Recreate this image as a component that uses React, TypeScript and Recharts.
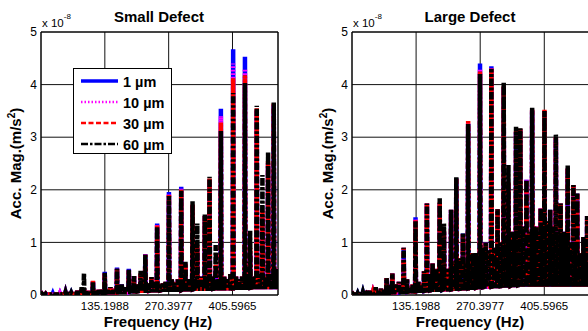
import React from 'react';
import { LineChart, Line, XAxis, YAxis, CartesianGrid, ReferenceArea } from 'recharts';

const FREQ_TICKS = [135.1988, 270.3977, 405.5965];
const FREQ_TICK_LABELS = ['135.1988', '270.3977', '405.5965'];
const MAG_TICKS = [0, 1, 2, 3, 4, 5];
const SERIES_NAMES = ['1 \u00b5m', '10 \u00b5m', '30 \u00b5m', '60 \u00b5m'];
const PANEL_TITLES = ['Small Defect', 'Large Defect'];

// ---- Small defect spectrum (Hz, x 1e-8 m/s^2) ----
const smallFreq = [
  2, 10, 25, 40, 52, 64, 77, 86, 91, 100,
  110, 117, 122, 129, 135, 141, 147, 154, 161, 166,
  171, 178, 186, 191, 197, 204, 211, 216, 221, 228,
  234, 240, 246, 252, 258, 264, 271, 277, 283, 290,
  297, 301, 306, 313, 321, 326, 331, 339, 347, 352,
  357, 364, 370, 376, 381, 388, 395, 401, 407, 413,
  420, 426, 432, 438, 443, 450, 457, 463, 469, 475,
  481, 487, 493, 498, 501,
];
const small1um = [
  0.02, 0.02, 0.03, 0.03, 0.05, 0.04, 0.08, 0.1, 0.12, 0.08,
  0.26, 0.08, 0.1, 0.1, 0.44, 0.1, 0.15, 0.12, 0.52, 0.15,
  0.2, 0.15, 0.5, 0.2, 0.36, 0.2, 0.4, 0.2, 0.78, 0.22,
  0.34, 0.25, 1.36, 0.2, 0.22, 0.25, 1.96, 0.3, 0.25, 0.3,
  2.06, 0.3, 0.6, 0.3, 1.7, 0.3, 0.9, 0.35, 1.5, 0.3,
  2.2, 0.35, 0.5, 0.3, 3.54, 0.35, 0.3, 0.4, 4.67, 0.35,
  0.3, 0.35, 4.53, 0.4, 0.8, 0.35, 3.5, 0.4, 1.5, 0.35,
  2.5, 0.4, 3.6, 0.5, 0.3,
];
const small10um = [
  0.02, 0.02, 0.03, 0.03, 0.05, 0.04, 0.08, 0.1, 0.12, 0.08,
  0.26, 0.08, 0.1, 0.1, 0.43, 0.1, 0.15, 0.12, 0.5, 0.15,
  0.2, 0.15, 0.49, 0.2, 0.36, 0.2, 0.4, 0.2, 0.77, 0.22,
  0.34, 0.25, 1.34, 0.2, 0.22, 0.25, 1.92, 0.3, 0.25, 0.3,
  2.02, 0.3, 0.6, 0.3, 1.7, 0.3, 0.9, 0.35, 1.5, 0.3,
  2.2, 0.35, 0.5, 0.3, 3.4, 0.35, 0.3, 0.4, 4.4, 0.35,
  0.3, 0.35, 4.3, 0.4, 0.8, 0.35, 3.52, 0.4, 1.5, 0.35,
  2.5, 0.4, 3.62, 0.5, 0.3,
];
const small30um = [
  0.02, 0.02, 0.03, 0.03, 0.05, 0.04, 0.08, 0.1, 0.12, 0.08,
  0.27, 0.08, 0.1, 0.1, 0.42, 0.1, 0.15, 0.12, 0.5, 0.15,
  0.2, 0.15, 0.48, 0.2, 0.36, 0.2, 0.42, 0.2, 0.77, 0.22,
  0.34, 0.25, 1.32, 0.2, 0.22, 0.25, 1.9, 0.3, 0.25, 0.3,
  2.0, 0.3, 0.6, 0.3, 1.72, 0.3, 0.95, 0.35, 1.5, 0.3,
  2.22, 0.35, 0.6, 0.3, 3.28, 0.35, 0.3, 0.4, 4.12, 0.35,
  0.3, 0.35, 4.18, 0.4, 0.9, 0.35, 3.55, 0.4, 1.6, 0.35,
  2.55, 0.4, 3.64, 0.5, 0.3,
];
const small60um = [
  0.02, 0.02, 0.03, 0.03, 0.05, 0.04, 0.08, 0.15, 0.42, 0.08,
  0.25, 0.08, 0.1, 0.1, 0.42, 0.1, 0.15, 0.12, 0.5, 0.15,
  0.2, 0.15, 0.48, 0.2, 0.36, 0.2, 0.46, 0.2, 0.76, 0.22,
  0.34, 0.25, 1.3, 0.2, 0.22, 0.25, 1.88, 0.3, 0.25, 0.3,
  1.98, 0.3, 0.63, 0.3, 1.78, 0.3, 1.36, 0.35, 1.53, 0.3,
  2.25, 0.35, 0.95, 0.3, 3.12, 0.35, 0.3, 0.4, 3.84, 0.35,
  0.3, 0.35, 4.03, 0.4, 1.22, 0.35, 3.6, 0.4, 2.28, 0.35,
  2.72, 0.4, 3.66, 0.5, 0.3,
];
const smallFloor = [
  0.01, 0.01, 0.01, 0.01, 0.02, 0.02, 0.02, 0.02, 0.03, 0.03,
  0.03, 0.03, 0.04, 0.04, 0.04, 0.05, 0.05, 0.05, 0.05, 0.06,
  0.06, 0.06, 0.06, 0.07, 0.07, 0.07, 0.08, 0.08, 0.08, 0.08,
  0.09, 0.09, 0.09, 0.09, 0.1, 0.1, 0.1, 0.1, 0.1, 0.1,
  0.1, 0.11, 0.11, 0.11, 0.11, 0.12, 0.12, 0.12, 0.12, 0.12,
  0.12, 0.12, 0.13, 0.13, 0.13, 0.13, 0.13, 0.13, 0.13, 0.14,
  0.14, 0.14, 0.14, 0.14, 0.14, 0.15, 0.15, 0.15, 0.15, 0.15,
  0.15, 0.15, 0.15, 0.15, 0.15,
];

// ---- Large defect spectrum ----
const largeFreq = [
  2, 12, 23, 30, 37, 44, 50, 56, 61, 67,
  73, 79, 85, 92, 99, 104, 109, 116, 122, 128,
  134, 140, 145, 152, 158, 164, 170, 178, 185, 190,
  194, 202, 209, 215, 220, 227, 234, 240, 245, 250,
  255, 261, 266, 270, 276, 282, 288, 294, 300, 307,
  313, 320, 325, 330, 334, 338, 342, 346, 350, 355,
  361, 368, 374, 380, 384, 388, 393, 398, 402, 406,
  411, 418, 424, 430, 435, 440, 444, 447, 451, 455,
  461, 467, 471, 475, 481, 488, 492, 496, 500,
];
const large1um = [
  0.02, 0.03, 0.05, 0.03, 0.08, 0.05, 0.15, 0.08, 0.12, 0.1,
  0.32, 0.2, 0.41, 0.2, 0.25, 0.15, 0.9, 0.3, 0.15, 0.2,
  1.48, 0.25, 0.2, 0.45, 1.74, 0.4, 0.6, 0.5, 1.75, 0.45,
  1.2, 0.5, 1.62, 0.6, 2.22, 0.7, 1.17, 0.6, 3.25, 0.6,
  0.8, 0.8, 0.7, 4.4, 0.9, 1.0, 0.85, 4.35, 0.9, 1.63,
  1.0, 3.95, 1.1, 2.1, 1.0, 1.2, 1.1, 3.1, 1.2, 3.15,
  1.3, 2.19, 1.2, 3.5, 1.3, 1.3, 1.2, 1.65, 1.3, 3.5,
  1.4, 1.62, 1.3, 2.95, 1.2, 1.74, 1.1, 1.2, 1.0, 2.4,
  1.0, 2.09, 0.9, 1.93, 0.8, 1.1, 0.7, 1.5, 0.6,
];
const large10um = [
  0.02, 0.03, 0.05, 0.03, 0.08, 0.05, 0.15, 0.08, 0.12, 0.1,
  0.32, 0.2, 0.41, 0.2, 0.25, 0.15, 0.9, 0.3, 0.15, 0.2,
  1.44, 0.25, 0.2, 0.45, 1.74, 0.4, 0.6, 0.5, 1.75, 0.45,
  1.2, 0.5, 1.62, 0.6, 2.22, 0.7, 1.17, 0.6, 3.28, 0.6,
  0.8, 0.8, 0.7, 4.3, 0.9, 1.0, 0.85, 4.33, 0.9, 1.63,
  1.0, 3.95, 1.1, 2.1, 1.0, 1.2, 1.1, 3.1, 1.2, 3.15,
  1.3, 2.19, 1.2, 3.52, 1.3, 1.3, 1.2, 1.65, 1.3, 3.5,
  1.4, 1.62, 1.3, 3.0, 1.2, 1.74, 1.1, 1.2, 1.0, 2.4,
  1.0, 2.09, 0.9, 1.93, 0.8, 1.1, 0.7, 1.5, 0.6,
];
const large30um = [
  0.02, 0.03, 0.05, 0.03, 0.08, 0.05, 0.15, 0.08, 0.12, 0.1,
  0.32, 0.2, 0.41, 0.2, 0.25, 0.15, 0.9, 0.3, 0.15, 0.2,
  1.42, 0.25, 0.2, 0.45, 1.74, 0.4, 0.6, 0.5, 1.76, 0.45,
  1.22, 0.5, 1.62, 0.6, 2.23, 0.7, 1.17, 0.6, 3.31, 0.6,
  0.8, 0.8, 0.7, 4.25, 0.9, 1.0, 0.85, 4.3, 0.9, 1.63,
  1.0, 3.97, 1.1, 2.15, 1.0, 1.2, 1.1, 3.12, 1.2, 3.16,
  1.3, 2.19, 1.2, 3.54, 1.3, 1.3, 1.2, 1.65, 1.3, 3.52,
  1.4, 1.62, 1.3, 3.0, 1.2, 1.74, 1.1, 1.2, 1.0, 2.42,
  1.0, 2.09, 0.9, 1.93, 0.8, 1.1, 0.7, 1.5, 0.6,
];
const large60um = [
  0.02, 0.03, 0.05, 0.03, 0.1, 0.05, 0.15, 0.08, 0.12, 0.1,
  0.32, 0.2, 0.41, 0.2, 0.25, 0.15, 0.9, 0.3, 0.15, 0.2,
  1.4, 0.25, 0.2, 0.45, 1.74, 0.4, 0.6, 0.5, 1.84, 0.45,
  1.36, 0.5, 1.62, 0.6, 2.24, 0.7, 1.17, 0.6, 3.25, 0.6,
  0.8, 0.8, 0.7, 4.2, 0.9, 1.0, 0.85, 4.3, 0.9, 1.63,
  1.0, 4.04, 1.1, 2.47, 1.0, 1.2, 1.1, 3.2, 1.2, 3.17,
  1.3, 2.19, 1.2, 3.56, 1.3, 1.3, 1.2, 1.65, 1.3, 3.5,
  1.4, 1.62, 1.3, 3.05, 1.2, 1.74, 1.1, 1.2, 1.0, 2.47,
  1.0, 2.09, 0.9, 1.93, 0.8, 1.1, 0.7, 1.5, 0.6,
];
const largeFloor = [
  0.01, 0.01, 0.02, 0.02, 0.02, 0.02, 0.03, 0.03, 0.03, 0.03,
  0.04, 0.04, 0.05, 0.05, 0.05, 0.06, 0.06, 0.06, 0.07, 0.07,
  0.07, 0.08, 0.08, 0.08, 0.09, 0.09, 0.1, 0.1, 0.1, 0.1,
  0.11, 0.11, 0.11, 0.12, 0.12, 0.12, 0.13, 0.13, 0.13, 0.14,
  0.14, 0.14, 0.15, 0.15, 0.15, 0.16, 0.16, 0.16, 0.17, 0.17,
  0.17, 0.18, 0.18, 0.18, 0.18, 0.19, 0.19, 0.19, 0.19, 0.2,
  0.2, 0.2, 0.2, 0.2, 0.2, 0.2, 0.2, 0.2, 0.2, 0.2,
  0.2, 0.2, 0.2, 0.2, 0.2, 0.2, 0.2, 0.2, 0.2, 0.2,
  0.2, 0.2, 0.2, 0.2, 0.2, 0.2, 0.2, 0.2, 0.2,
];

const LINE_HALF_WIDTH_HZ = 0.9;

type Row = { f: number; s1: number; s10: number; s30: number; s60: number };

function buildRows(freq: number[], a: number[], b: number[], c: number[], d: number[], floor: number[]): Row[] {
  const rows: Row[] = [];
  freq.forEach((f, i) => {
    const base = floor[i];
    rows.push({ f: f - LINE_HALF_WIDTH_HZ, s1: base, s10: base, s30: base, s60: base });
    rows.push({ f, s1: a[i], s10: b[i], s30: c[i], s60: d[i] });
    rows.push({ f: f + LINE_HALF_WIDTH_HZ, s1: base, s10: base, s30: base, s60: base });
  });
  return rows;
}

const smallRows = buildRows(smallFreq, small1um, small10um, small30um, small60um, smallFloor);
const largeRows = buildRows(largeFreq, large1um, large10um, large30um, large60um, largeFloor);

const FONT = '"Liberation Sans", Arial, Helvetica, sans-serif';
const SERIES_STYLE = [
  { key: 's1', color: '#0000ff', dash: undefined as string | undefined },
  { key: 's10', color: '#ff00ff', dash: '1.5 2' },
  { key: 's30', color: '#ff0000', dash: '5 2.5' },
  { key: 's60', color: '#000000', dash: '7 2 2.5 2' },
];

function Panel({ rows, left, width, marginRight, yAxisWidth }: { rows: Row[]; left: number; width: number; marginRight: number; yAxisWidth: number }) {
  return (
    <div style={{ position: 'absolute', left, top: 0 }}>
      <LineChart width={width} height={331} data={rows} margin={{ top: 32, right: marginRight, bottom: 0, left: 0 }}>
        <CartesianGrid stroke="#111" strokeWidth={1} />
        <XAxis
          dataKey="f"
          type="number"
          domain={[0, 502]}
          ticks={FREQ_TICKS}
          allowDataOverflow
          height={36}
          tickLine={false}
          axisLine={false}
          tickSize={3}
          tickMargin={4}
          tick={{ fill: '#000', fontSize: 11.5, fontFamily: FONT }}
          tickFormatter={(v: number) => FREQ_TICK_LABELS[FREQ_TICKS.indexOf(v)] ?? String(v)}
          interval={0}
        />
        <YAxis
          type="number"
          domain={[0, 5]}
          ticks={MAG_TICKS}
          allowDataOverflow
          width={yAxisWidth}
          tickLine={false}
          axisLine={false}
          tickSize={2}
          tickMargin={2}
          tick={{ fill: '#000', fontSize: 12, fontFamily: FONT }}
          interval={0}
        />
        {SERIES_STYLE.map((s) => (
          <Line
            key={s.key}
            dataKey={s.key}
            type="linear"
            stroke={s.color}
            strokeWidth={4.5}
            strokeDasharray={s.dash}
            dot={false}
            activeDot={false}
            isAnimationActive={false}
          />
        ))}
        <ReferenceArea x1={0} x2={502} y1={0} y2={5} fill="none" stroke="#000" strokeWidth={1} ifOverflow="visible" />
      </LineChart>
    </div>
  );
}

function Overlay() {
  const bold = { fontFamily: FONT, fontWeight: 'bold' as const, fill: '#000' };
  const legendRows = [81, 102, 123, 144];
  return (
    <svg width={588} height={331} style={{ position: 'absolute', left: 0, top: 0, pointerEvents: 'none' }}>
      <text x={159} y={22} textAnchor="middle" fontSize={15} {...bold}>{PANEL_TITLES[0]}</text>
      <text x={470} y={22} textAnchor="middle" fontSize={15} {...bold}>{PANEL_TITLES[1]}</text>
      <text x={42} y={27} fontSize={11.5} fontFamily={FONT} fill="#000">x 10<tspan dy={-8} fontSize={8}>-8</tspan></text>
      <text x={353} y={27} fontSize={11.5} fontFamily={FONT} fill="#000">x 10<tspan dy={-8} fontSize={8}>-8</tspan></text>
      <text x={158} y={327} textAnchor="middle" fontSize={15} {...bold}>Frequency (Hz)</text>
      <text x={470} y={327} textAnchor="middle" fontSize={15} {...bold}>Frequency (Hz)</text>
      <text x={21} y={163.5} transform="rotate(-90 21 163.5)" textAnchor="middle" fontSize={15} {...bold}>
        Acc. Mag.(m/s<tspan dy={-6} fontSize={10}>2</tspan><tspan dy={6}>)</tspan>
      </text>
      <text x={333} y={163.5} transform="rotate(-90 333 163.5)" textAnchor="middle" fontSize={15} {...bold}>
        Acc. Mag.(m/s<tspan dy={-6} fontSize={10}>2</tspan><tspan dy={6}>)</tspan>
      </text>
      <rect x={73.5} y={68.5} width={98} height={85} fill="#fff" stroke="#000" strokeWidth={1} />
      {SERIES_STYLE.map((s, i) => (
        <g key={s.key}>
          <line x1={81} x2={118} y1={legendRows[i]} y2={legendRows[i]} stroke={s.color} strokeWidth={s.key === 's1' ? 3.5 : 2.5} strokeDasharray={s.dash} />
          <text x={123} y={legendRows[i] + 5.5} fontSize={14.5} {...bold}>{SERIES_NAMES[i]}</text>
        </g>
      ))}
    </svg>
  );
}

export default function App() {
  return (
    <div style={{ position: 'absolute', left: 0, top: 0, width: 588, height: 331, overflow: 'hidden', background: '#fff' }}>
      <Panel rows={smallRows} left={0} width={300} marginRight={22} yAxisWidth={41} />
      <Panel rows={largeRows} left={300} width={300} marginRight={10} yAxisWidth={52} />
      <Overlay />
    </div>
  );
}
